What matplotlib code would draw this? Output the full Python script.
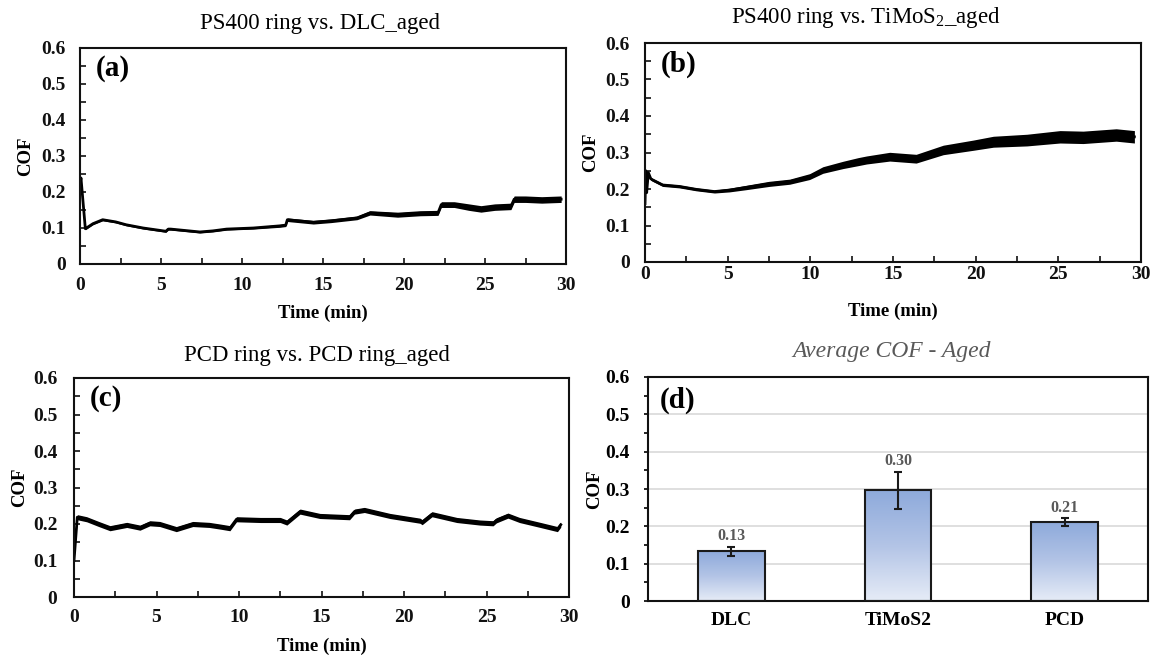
import numpy as np
import matplotlib
matplotlib.use("Agg")
import matplotlib.pyplot as plt
from matplotlib.ticker import MultipleLocator, FuncFormatter
from matplotlib.colors import LinearSegmentedColormap

plt.rcParams['font.family'] = ['Liberation Serif', 'DejaVu Serif']
plt.rcParams['font.weight'] = 'bold'
plt.rcParams['mathtext.default'] = 'regular'

# (a) PS400 ring vs. DLC_aged : time (min), mean COF, half band width
t_dlc = [0.0, 0.06, 0.33, 0.8, 1.4, 2.2, 2.85, 3.9, 5.3, 5.45, 5.6, 6.5, 7.4, 8.2,
         9.05, 10.7, 12.35, 12.7, 12.8, 14.4, 15.5, 17.1, 17.9, 19.6, 21.0, 22.1,
         22.3, 23.1, 24.0, 24.75, 25.6, 26.6, 26.8, 27.5, 28.5, 29.7]
cof_dlc = [0.220, 0.239, 0.098, 0.112, 0.123, 0.117, 0.109, 0.100, 0.091, 0.097,
           0.097, 0.093, 0.089, 0.092, 0.097, 0.100, 0.106, 0.108, 0.123, 0.116,
           0.120, 0.128, 0.142, 0.137, 0.141, 0.142, 0.165, 0.165, 0.158, 0.153,
           0.158, 0.160, 0.180, 0.180, 0.178, 0.180]
band_dlc = [0.002, 0.002, 0.003, 0.003, 0.003, 0.003, 0.003, 0.003, 0.003, 0.003,
            0.003, 0.003, 0.003, 0.003, 0.003, 0.003, 0.004, 0.004, 0.005, 0.005,
            0.005, 0.005, 0.006, 0.007, 0.007, 0.007, 0.008, 0.008, 0.009, 0.009,
            0.009, 0.009, 0.009, 0.009, 0.009, 0.009]

# (b) PS400 ring vs. TiMoS2_aged
t_timos = [0.0, 0.05, 0.1, 0.2, 0.35, 0.46, 1.07, 2.08, 3.1, 4.2, 5.1, 6.1, 7.5,
           8.75, 9.96, 10.76, 11.98, 12.9, 13.4, 14.8, 16.4, 18.04, 19.85, 21.07,
           23.1, 25.1, 26.5, 28.5, 29.6]
cof_timos = [0.160, 0.250, 0.190, 0.245, 0.228, 0.225, 0.211, 0.207, 0.199, 0.193,
             0.197, 0.204, 0.214, 0.220, 0.234, 0.252, 0.266, 0.275, 0.2795, 0.2885,
             0.283, 0.307, 0.320, 0.3295, 0.334, 0.343, 0.3415, 0.348, 0.343]
band_timos = [0.002, 0.002, 0.002, 0.003, 0.004, 0.004, 0.004, 0.004, 0.004, 0.004,
              0.005, 0.006, 0.007, 0.007, 0.008, 0.009, 0.010, 0.011, 0.011, 0.012,
              0.012, 0.013, 0.014, 0.015, 0.016, 0.017, 0.017, 0.017, 0.017]

# (c) PCD ring vs. PCD ring_aged
t_pcd = [0.0, 0.2, 0.77, 1.5, 2.18, 3.2, 4.0, 4.6, 5.2, 6.2, 7.2, 8.2, 8.85, 9.45,
         9.85, 11.3, 12.5, 12.9, 13.7, 14.9, 16.7, 17.0, 17.6, 19.15, 20.97, 21.1,
         21.7, 23.2, 24.6, 25.4, 25.6, 26.3, 27.0, 28.3, 29.3, 29.5]
cof_pcd = [0.100, 0.2186, 0.213, 0.200, 0.1885, 0.1975, 0.190, 0.202, 0.200, 0.186,
           0.200, 0.1975, 0.193, 0.1885, 0.213, 0.211, 0.211, 0.204, 0.234, 0.222,
           0.2186, 0.234, 0.2385, 0.222, 0.209, 0.205, 0.2268, 0.211, 0.204, 0.202,
           0.210, 0.223, 0.211, 0.197, 0.186, 0.198]
band_pcd = [0.003] + [0.007] * 35

# (d) Average COF - Aged
materials = ['DLC', 'TiMoS2', 'PCD']
avg_cof = [0.133, 0.296, 0.211]
std_cof = [0.012, 0.049, 0.010]

fig = plt.figure(figsize=(11.53, 6.59), dpi=100)
W, H = 1153, 659


def add_axes_px(left, top, right, bottom):
    return fig.add_axes([left / W, 1 - bottom / H, (right - left) / W, (bottom - top) / H])


def ylab_fmt(v, _):
    return '0' if abs(v) < 1e-9 else f'{v:.1f}'


def style_frame(ax):
    for s in ax.spines.values():
        s.set_linewidth(1.5)
        s.set_color('#111111')


def cof_panel(ax, t, cof, band, tag, xpad, ypad):
    t = np.asarray(t)
    cof = np.asarray(cof)
    band = np.asarray(band)
    ax.fill_between(t, cof - band, cof + band, color='black', lw=0)
    ax.plot(t, cof, color='black', lw=2.0, solid_joinstyle='round')
    ax.set_xlim(0, 30)
    ax.set_ylim(0, 0.6)
    ax.xaxis.set_major_locator(MultipleLocator(5))
    ax.xaxis.set_minor_locator(MultipleLocator(2.5))
    ax.yaxis.set_major_locator(MultipleLocator(0.1))
    ax.yaxis.set_minor_locator(MultipleLocator(0.05))
    ax.yaxis.set_major_formatter(FuncFormatter(ylab_fmt))
    ax.tick_params(which='both', direction='in', length=4, width=1.2, colors='#111111')
    ax.tick_params(axis='x', which='major', pad=xpad, labelsize=14)
    ax.tick_params(axis='y', which='major', pad=ypad, labelsize=14)
    style_frame(ax)
    bb = ax.get_position()
    wpx, hpx = bb.width * W, bb.height * H
    ax.text(-54 / wpx, 0.5, 'COF', transform=ax.transAxes, rotation=90,
            ha='center', va='center', fontsize=13.5)
    ax.text(0.5, -49 / hpx, 'Time (min)', transform=ax.transAxes,
            ha='center', va='center', fontsize=13.5)
    ax.text(16 / wpx, 1 - 21 / hpx, tag, transform=ax.transAxes,
            ha='left', va='center', fontsize=21)


ax_a = add_axes_px(80, 48, 566, 264)
cof_panel(ax_a, t_dlc, cof_dlc, band_dlc, '(a)', xpad=9, ypad=10)

ax_b = add_axes_px(645, 43, 1141, 262)
cof_panel(ax_b, t_timos, cof_timos, band_timos, '(b)', xpad=3, ypad=11)

ax_c = add_axes_px(74, 378, 569, 597)
cof_panel(ax_c, t_pcd, cof_pcd, band_pcd, '(c)', xpad=9, ypad=12)

fig.text(320 / W, 1 - 24 / H, 'PS400 ring vs. DLC_aged', ha='center', va='center',
         fontsize=16.5, fontweight='normal')
fig.text(866 / W, 1 - 18 / H, r'PS400 ring vs. TiMoS$_2$_aged', ha='center', va='center',
         fontsize=16.5, fontweight='normal')
fig.text(317 / W, 1 - 355 / H, 'PCD ring vs. PCD ring_aged', ha='center', va='center',
         fontsize=16.5, fontweight='normal')

# (d) bar chart of averages with gradient fill
ax_d = add_axes_px(648, 377, 1148, 601)
xpos = np.arange(len(materials))
bars = ax_d.bar(xpos, avg_cof, width=0.4, facecolor='none', edgecolor='#1a1a1a',
                lw=1.5, zorder=3)
fade = LinearSegmentedColormap.from_list('fade', ['#e6ecf7', '#b3c4e6', '#8eaadb'])
grad = np.linspace(0, 1, 256).reshape(-1, 1)
for b in bars:
    x0, w, h = b.get_x(), b.get_width(), b.get_height()
    ax_d.imshow(grad, extent=[x0, x0 + w, 0, h], origin='lower', cmap=fade,
                aspect='auto', zorder=2)
ax_d.errorbar(xpos, avg_cof, yerr=std_cof, fmt='none', ecolor='#1a1a1a',
              elinewidth=1.5, capsize=3, capthick=1.5, zorder=4)
for xi, v, e in zip(xpos, avg_cof, std_cof):
    ax_d.annotate(f'{v:.2f}', xy=(xi, v + e), xytext=(0, 2), textcoords='offset points',
                  ha='center', va='bottom', fontsize=11.5, color='#595959')
ax_d.set_xlim(-0.5, 2.5)
ax_d.set_ylim(0, 0.6)
ax_d.set_xticks(xpos)
ax_d.set_xticklabels(materials)
ax_d.yaxis.set_major_locator(MultipleLocator(0.1))
ax_d.yaxis.set_minor_locator(MultipleLocator(0.05))
ax_d.yaxis.set_major_formatter(FuncFormatter(ylab_fmt))
ax_d.yaxis.grid(True, color='#d9d9d9', lw=1.2)
ax_d.set_axisbelow(True)
ax_d.tick_params(axis='x', length=0, pad=8, labelsize=14)
ax_d.tick_params(axis='y', which='both', direction='out', length=3, width=1.2, pad=10,
                 labelsize=14)
style_frame(ax_d)
bbd = ax_d.get_position()
ax_d.text(-53 / (bbd.width * W), 0.5, 'COF', transform=ax_d.transAxes, rotation=90,
          ha='center', va='center', fontsize=13.5)
ax_d.text(12 / (bbd.width * W), 1 - 23 / (bbd.height * H), '(d)', transform=ax_d.transAxes,
          ha='left', va='center', fontsize=21)
fig.text(892 / W, 1 - 351 / H, 'Average COF - Aged', ha='center', va='center',
         fontsize=17, fontweight='normal', style='italic', color='#595959')

fig.savefig('out.png', dpi=100)
